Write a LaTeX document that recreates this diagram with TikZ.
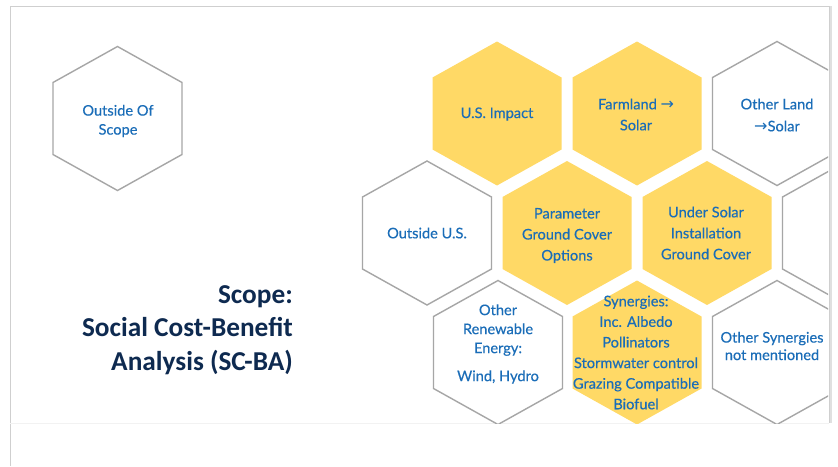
\documentclass[tikz,border=0pt]{standalone}
\usepackage{fontspec}
\setmainfont{Lato}[FakeBold=0.35]
\newfontfamily\titlefont{Carlito}
\newfontfamily\arrowfont{DejaVu Sans}
\definecolor{hexgray}{HTML}{A6A6A6}
\definecolor{hexgold}{HTML}{FFD966}
\definecolor{hexblue}{HTML}{1A6DB8}
\definecolor{navy}{HTML}{0E2A50}
\definecolor{framegray}{HTML}{CFCFCF}
\newcommand\rarr{{\arrowfont\fontsize{16}{16}\selectfont\char"2192}}
\begin{document}
\begin{tikzpicture}[x=1pt,y=-1pt,
  hexout/.style={draw=hexgray,line width=1.4pt,fill=white,line join=miter},
  hexfill/.style={fill=hexgold},
  celltext/.style={text=hexblue,font=\fontsize{14.6}{20.5}\selectfont,align=center,inner sep=0pt},
  titletext/.style={text=navy,font=\titlefont\bfseries\fontsize{27.3}{33.5}\selectfont,align=right,inner sep=0pt}]
% hexagonal cell centred on the given coordinate
\newcommand\hexcell[3]{%
  \path[#3,shift={(#1,#2)}] (-64.5,-36) -- (0,-72) -- (64.5,-36) -- (64.5,36) -- (0,72) -- (-64.5,36) -- cycle;}
\useasboundingbox (0,0) rectangle (838,466);
\fill[white] (0,0) rectangle (838,466);
% slide frame
\fill[black!12] (829,6) rectangle (832,423);
\draw[framegray,line width=1pt] (10,466) -- (10,6) -- (829,6) -- (829,423);
\draw[black!5,line width=0.8pt] (10,423) -- (829,423);
% stand-alone cell
\hexcell{117.5}{118.5}{hexout}
\node[celltext,font=\fontsize{14.6}{19}\selectfont] (oos) at (118,121) {Outside Of\\Scope};
% honeycomb
\begin{scope}
\clip (0,0) rectangle (828,423);
\hexcell{497}{113.5}{hexfill}
\hexcell{637}{113.5}{hexfill}
\hexcell{777}{113.5}{hexout}
\hexcell{427}{233}{hexout}
\hexcell{567}{233}{hexfill}
\hexcell{707}{233}{hexfill}
\hexcell{847}{233}{hexout}
\hexcell{498}{352.5}{hexout}
\hexcell{637}{352.5}{hexfill}
\hexcell{777}{352.5}{hexout}
\end{scope}
\node[celltext] (usi) at (497,114) {U.S. Impact};
\node[celltext,font=\fontsize{14.6}{21}\selectfont] (farm) at (636,114.5) {Farmland \rarr\\Solar};
\node[celltext,font=\fontsize{14.6}{22}\selectfont] (oland) at (777,115) {Other Land\\\rarr Solar};
\node[celltext] (ous) at (427,233) {Outside U.S.};
\node[celltext,font=\fontsize{14.6}{21}\selectfont] (param) at (567,235.5) {Parameter\\Ground Cover\\Options};
\node[celltext,font=\fontsize{14.6}{21}\selectfont] (under) at (706,233) {Under Solar\\Installation\\Ground Cover};
\node[celltext,font=\fontsize{14.6}{19}\selectfont] (renew) at (498,344) {Other\\Renewable\\Energy:\\[9pt]Wind, Hydro};
\node[celltext,font=\fontsize{14.6}{20.6}\selectfont] (syn) at (636,352.5) {Synergies:\\Inc. Albedo\\Pollinators\\Stormwater control\\Grazing Compatible\\Biofuel};
\node[celltext,font=\fontsize{14.6}{17.5}\selectfont] (osyn) at (772,346) {Other Synergies\\not mentioned};
% heading
\node[titletext,anchor=north east] (title) at (293,285) {Scope:\\Social Cost-Benefit\\Analysis (SC-BA)};
\end{tikzpicture}
\end{document}
